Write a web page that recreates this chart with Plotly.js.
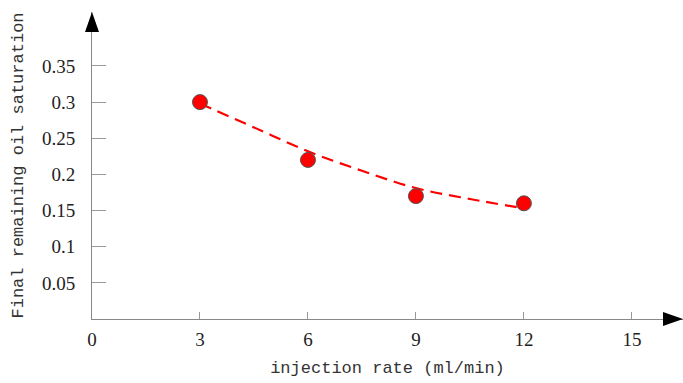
<!DOCTYPE html>
<html><head><meta charset="utf-8">
<script src="https://cdn.plot.ly/plotly-3.0.1.min.js"></script>
<style>html,body{margin:0;padding:0;background:#fff}#plot{width:683px;height:383px}</style>
</head><body><div id="plot"></div>
<script>
// measured points
var rateX = [3, 6, 9, 12];
var saturationY = [0.30, 0.22, 0.17, 0.16];
// dashed trend curve
var trendX = [3, 4.5, 6, 7.5, 9, 10.5, 12];
var trendY = [0.298, 0.265, 0.232, 0.205, 0.181, 0.166, 0.153];
// ticks
var xTickVals = [0, 3, 6, 9, 12, 15];
var xTickText = ['0', '3', '6', '9', '12', '15'];
var yTickVals = [0.05, 0.1, 0.15, 0.2, 0.25, 0.3, 0.35];
var yTickText = ['0.05', '0.1', '0.15', '0.2', '0.25', '0.3', '0.35'];

var tickFont = {family: '"Liberation Serif", "DejaVu Serif", serif', size: 19, color: '#222'};
var titleFont = {family: '"Liberation Mono", "DejaVu Sans Mono", monospace', size: 17, color: '#333'};

var traces = [
  {x: trendX, y: trendY, mode: 'lines', type: 'scatter',
   line: {color: '#ff0000', width: 2.2, dash: '12px,7px', shape: 'spline', smoothing: 1},
   hoverinfo: 'skip', showlegend: false},
  {x: rateX, y: saturationY, mode: 'markers', type: 'scatter',
   marker: {color: '#ff0000', size: 15, line: {color: '#555', width: 1}},
   showlegend: false}
];

var layout = {
  width: 683, height: 383,
  margin: {l: 92, r: 0, t: 12, b: 64, pad: 0},
  paper_bgcolor: '#fff', plot_bgcolor: '#fff',
  showlegend: false,
  xaxis: {
    range: [0, 16.42], showgrid: false, zeroline: false,
    showline: true, linecolor: '#888', linewidth: 1,
    tickmode: 'array', tickvals: xTickVals, ticktext: xTickText,
    ticks: 'inside', ticklen: 7, tickcolor: '#999', tickwidth: 1,
    tickfont: tickFont, ticklabelstandoff: 3,
    title: {text: 'injection rate (ml/min)', font: titleFont, standoff: 12}
  },
  yaxis: {
    range: [0, 0.4246], showgrid: false, zeroline: false,
    showline: true, linecolor: '#888', linewidth: 1,
    tickmode: 'array', tickvals: yTickVals, ticktext: yTickText,
    ticks: 'inside', ticklen: 14, tickcolor: '#999', tickwidth: 1,
    tickfont: tickFont, ticklabelstandoff: 12,
    title: {text: 'Final remaining oil saturation', font: titleFont, standoff: 14}
  },
  shapes: [
    {type: 'path', xref: 'paper', yref: 'paper', xsizemode: 'pixel', ysizemode: 'pixel',
     xanchor: 0, yanchor: 1, path: 'M -7 -20 L 7 -20 L 0 0 Z',
     fillcolor: '#000', line: {width: 0}, layer: 'above'},
    {type: 'path', xref: 'paper', yref: 'paper', xsizemode: 'pixel', ysizemode: 'pixel',
     xanchor: 1, yanchor: 0, path: 'M -20 -7 L -20 7 L 0 0 Z',
     fillcolor: '#000', line: {width: 0}, layer: 'above'}
  ]
};

Plotly.newPlot('plot', traces, layout, {displayModeBar: false, staticPlot: true});
</script>
</body></html>
